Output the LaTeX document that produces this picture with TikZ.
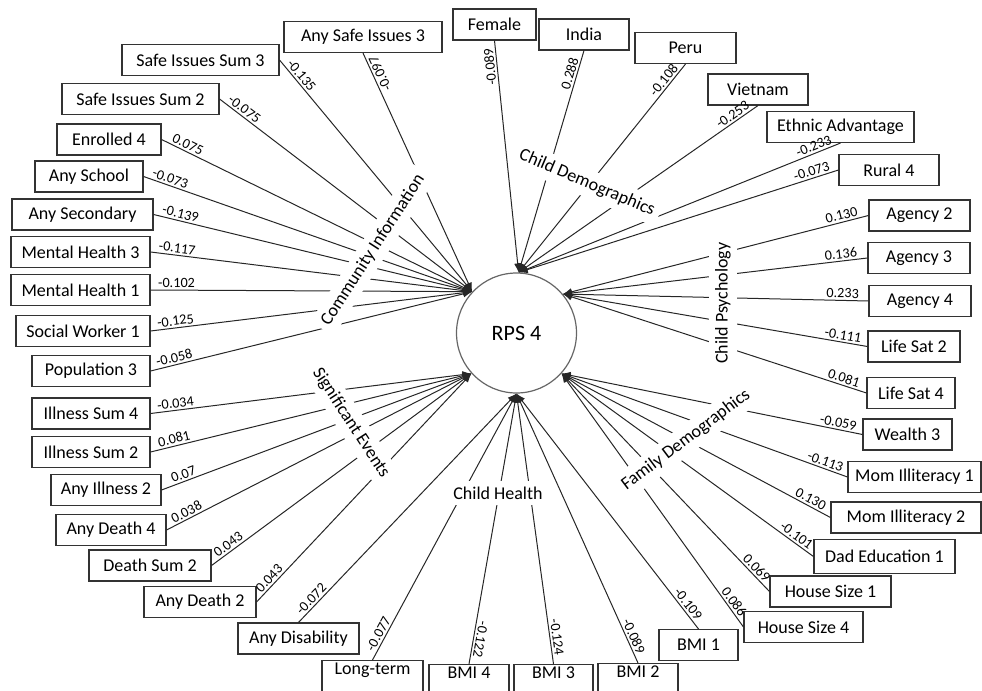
\documentclass[tikz,border=0pt]{standalone}
\usepackage{fontspec}
\setmainfont{Carlito}
\usetikzlibrary{arrows.meta,calc}

\tikzset{
  var/.style={draw=black!80, line width=0.55pt, minimum height=15.5pt, inner sep=1pt,
    font=\fontsize{9}{10}\selectfont},
  cutbox/.style={var, anchor=north, minimum height=0pt, inner ysep=1pt, text depth=9pt},
  link/.style={-{Latex[length=4.5pt,width=3.6pt]}, line width=0.5pt, black!85},
  coef/.style={font=\fontsize{7.1}{8}\selectfont, inner sep=1pt, sloped, midway},
  group/.style={fill=white, inner sep=3pt, font=\fontsize{9}{10}\selectfont},
}

\begin{document}
\begin{tikzpicture}[x=0.5pt, y=-0.5pt]
    \useasboundingbox (0,0) rectangle (982,691);

    % Outcome
    \node[circle, draw=black!60, line width=0.6pt, minimum size=60pt,
      font=\fontsize{11}{12}\selectfont] (rps) at (516.5,333) {RPS 4};

    % Community information (upper left)
    \node[var, minimum width=79pt] (anysafe3) at (363,37) {Any Safe Issues 3};
    \node[var, minimum width=78.5pt] (ssum3) at (200.5,60) {Safe Issues Sum 3};
    \node[var, minimum width=78.5pt] (ssum2) at (140.5,99) {Safe Issues Sum 2};
    \node[var, minimum width=52pt] (enr4) at (109,139.5) {Enrolled 4};
    \node[var, minimum width=54pt] (anysch) at (89,176.5) {Any School};
    \node[var, minimum width=70.5pt] (anysec) at (82.5,214.5) {Any Secondary};
    \node[var, minimum width=69.5pt] (mh3) at (80.5,252) {Mental Health 3};
    \node[var, minimum width=69.5pt] (mh1) at (80.5,290) {Mental Health 1};
    \node[var, minimum width=67pt] (sw1) at (83,331) {Social Worker 1};
    \node[var, minimum width=59pt] (pop3) at (91,371) {Population 3};

    % Child demographics (top)
    \node[var, minimum width=41.5pt] (female) at (494.5,24.5) {Female};
    \node[var, minimum width=45pt] (india) at (584,34.5) {India};
    \node[var, minimum width=50.5pt] (peru) at (685.5,48) {Peru};
    \node[var, minimum width=50pt] (viet) at (758,89.5) {Vietnam};
    \node[var, minimum width=73.5pt] (ethnic) at (840.5,127) {Ethnic Advantage};
    \node[var, minimum width=50pt] (rural4) at (889,170) {Rural 4};

    % Child psychology (right)
    \node[var, minimum width=50.5pt] (ag2) at (919.5,215.5) {Agency 2};
    \node[var, minimum width=51pt] (ag3) at (919,258) {Agency 3};
    \node[var, minimum width=51pt] (ag4) at (920,301) {Agency 4};
    \node[var, minimum width=46pt] (ls2) at (914,346.5) {Life Sat 2};
    \node[var, minimum width=44pt] (ls4) at (911,393) {Life Sat 4};

    % Family demographics (lower right)
    \node[var, minimum width=44.5pt] (w3) at (907.5,434.5) {Wealth 3};
    \node[var, minimum width=66.5pt] (mi1) at (914.5,477) {Mom Illiteracy 1};
    \node[var, minimum width=75pt] (mi2) at (906,517.5) {Mom Illiteracy 2};
    \node[var, minimum width=70.5pt, minimum height=17pt] (dad1) at (884.5,556.5) {Dad Education 1};
    \node[var, minimum width=60.5pt] (hs1) at (830.5,591.5) {House Size 1};
    \node[var, minimum width=59.5pt] (hs4) at (803.5,627) {House Size 4};

    % Child health (bottom)
    \node[var, minimum width=39.5pt] (bmi1) at (698.5,645) {BMI 1};
    \node[cutbox, minimum width=40pt] (bmi2) at (638,663) {BMI 2};
    \node[cutbox, minimum width=39.5pt] (bmi3) at (553.5,664) {BMI 3};
    \node[cutbox, minimum width=40pt] (bmi4) at (469,664) {BMI 4};
    \node[cutbox, minimum width=50.5pt] (longterm) at (372.5,660) {Long-term};
    \node[var, minimum width=60.5pt] (anydis) at (298.5,638.5) {Any Disability};

    % Significant events (lower left)
    \node[var, minimum width=59pt] (ism4) at (91,413.5) {Illness Sum 4};
    \node[var, minimum width=59pt] (ism2) at (91,452) {Illness Sum 2};
    \node[var, minimum width=55pt] (ai2) at (106,490) {Any Illness 2};
    \node[var, minimum width=55pt] (ad4) at (111,530) {Any Death 4};
    \node[var, minimum width=61pt] (ds2) at (150,565.5) {Death Sum 2};
    \node[var, minimum width=56pt] (ad2) at (200,602) {Any Death 2};

    % Paths with estimates
    \foreach \bx/\ang/\val/\anc/\rot in {
        anysafe3.south/137/-0.097/north/180, ssum3.east/137/-0.135/south/0,
        ssum2.east/137/-0.075/south/0, enr4.east/137/0.075/south/0,
        anysch.east/137/-0.073/south/0, anysec.east/137/-0.139/south/0,
        mh3.east/137/-0.117/south/0, mh1.east/137/-0.102/south/0,
        sw1.east/137/-0.125/south/0, pop3.east/137/-0.058/south/0,
        female.south/88/-0.089/south/180, india.south/88/0.288/south/0,
        peru.south/88/-0.108/south/0, viet.south/88/-0.253/south/0,
        ethnic.south/88/-0.233/south/0, rural4.west/88/-0.073/south/0,
        ag2.west/40/0.130/south/0, ag3.west/40/0.136/south/0,
        ag4.west/40/0.233/south/0, ls2.west/40/-0.111/south/0,
        ls4.west/40/0.081/south/0,
        w3.west/318/-0.059/south/0, mi1.west/318/-0.113/south/0,
        mi2.west/318/0.130/south/0, dad1.west/318/-0.101/south/0,
        hs1.west/318/0.069/south/0, hs4.west/318/0.086/south/0,
        bmi1.north/270/-0.109/south/0, bmi2.north/270/-0.089/south/0,
        bmi3.north/270/-0.124/south/0, bmi4.north/270/-0.122/south/180,
        longterm.north/270/-0.077/south/0, anydis.north/270/-0.072/south/0,
        ism4.east/222/-0.034/south/0, ism2.east/222/0.081/south/0,
        ai2.east/222/0.07/south/0, ad4.east/222/0.038/south/0,
        ds2.east/222/0.043/south/0, ad2.east/222/0.043/south/0} {
      \draw[link] (\bx) -- (rps.\ang);
      \path (\bx) -- ($(\bx)!26pt!(rps.\ang)$) node[coef, anchor=\anc, rotate=\rot] {\val};
    }

    % Group names over the paths
    \node[group, rotate=57] (gci) at (373,250) {Community Information};
    \node[group, rotate=-23] (gcd) at (587,183) {Child Demographics};
    \node[group, rotate=90] (gcp) at (723,303) {Child Psychology};
    \node[group, rotate=37] (gfd) at (686,440) {Family Demographics};
    \node[group] (gch) at (498,493) {Child Health};
    \node[group, rotate=-57] (gse) at (351,423) {Significant Events};
\end{tikzpicture}
\end{document}
